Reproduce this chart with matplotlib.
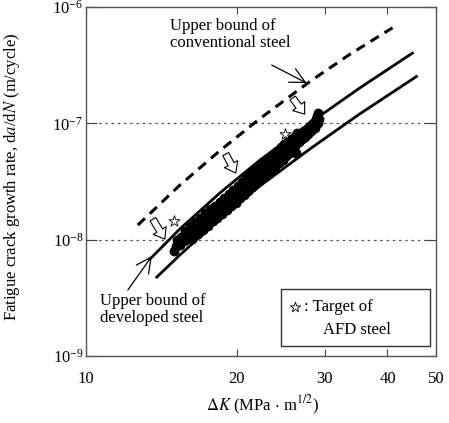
import matplotlib
matplotlib.use('Agg')
import matplotlib.pyplot as plt
from matplotlib.patches import Rectangle
from matplotlib.ticker import FixedLocator, FixedFormatter, NullLocator

plt.rcParams['font.family'] = ['Liberation Serif', 'DejaVu Serif']
plt.rcParams['mathtext.fontset'] = 'stix'
plt.rcParams['font.size'] = 12

# measured crack growth data (dK in MPa m^1/2, da/dN in 1e-8 m/cycle)
dk_data = [15.0, 15.1, 15.2, 15.4, 15.5, 15.7, 15.8, 16.0, 16.1, 16.3, 16.5, 16.7, 16.9, 17.1,
           17.3, 17.5, 17.7, 17.9, 18.1, 18.3, 18.5, 18.7, 18.9, 19.1, 19.3, 19.5, 19.7, 19.9,
           20.1, 20.3, 20.5, 20.7, 20.9, 21.1, 21.3, 21.5, 21.7, 21.9, 22.1, 22.3, 22.5, 22.7,
           22.9, 23.1, 23.3, 23.5, 23.7, 23.9, 24.1, 24.3, 24.5, 24.7, 24.9, 25.1, 25.3, 25.5,
           25.7, 25.9, 26.1, 26.3, 26.4, 26.6, 26.8, 27.0, 27.2, 27.4, 27.6, 27.8, 28.0, 28.2,
           28.4, 28.6, 28.8, 28.9, 29.0, 29.1, 29.2,
           16.2, 17.0, 17.8, 18.6, 19.4, 20.2, 21.0, 21.8, 22.6, 23.4, 24.2, 25.0, 25.8, 27.4,
           28.2,
           16.4, 16.8, 17.2, 17.6, 18.0, 18.4, 18.8, 19.2, 19.6, 20.0, 20.4, 20.8, 21.2, 21.6,
           22.0, 22.4, 22.8, 23.2, 23.6, 24.0, 24.4, 24.8, 25.2, 25.6, 26.0, 26.2, 27.0, 27.8]
rate_data = [0.80, 0.88, 1.00, 0.90, 1.06, 0.97, 1.18, 1.02, 1.30, 1.02, 1.42, 1.12, 1.55, 1.22,
             1.68, 1.32, 1.82, 1.44, 1.96, 1.54, 2.12, 1.66, 2.30, 1.80, 2.48, 1.94, 2.68, 2.08,
             2.90, 2.26, 3.15, 2.42, 3.40, 2.62, 3.65, 2.82, 3.90, 3.04, 4.15, 3.24, 4.45, 3.46,
             4.75, 3.70, 5.05, 3.98, 5.40, 4.25, 5.80, 4.55, 6.20, 4.85, 6.60, 5.20, 7.00, 5.55,
             7.40, 5.95, 7.85, 5.60, 8.20, 6.90, 8.00, 7.30, 8.60, 7.70, 9.00, 8.10, 9.50, 8.60,
             10.0, 9.20, 10.8, 11.6, 10.0, 12.2, 11.0,
             1.20, 1.45, 1.72, 2.00, 2.30, 2.62, 3.00, 3.45, 3.95, 4.55, 5.15, 5.85, 6.65, 8.40,
             9.60,
             1.25, 1.38, 1.52, 1.65, 1.80, 1.95, 2.12, 2.22, 2.40, 2.55, 2.75, 2.90, 3.10, 3.30,
             3.55, 3.80, 4.10, 4.35, 4.70, 5.00, 5.35, 5.70, 6.10, 6.50, 6.90, 6.40, 8.00, 8.90]

# bound curves
conv_dk = [12.69, 15.39, 18.50, 22.23, 27.96, 33.60, 40.94]
conv_rate = [1.335e-8, 2.94e-8, 5.81e-8, 1.095e-7, 2.279e-7, 3.904e-7, 6.63e-7]
dev_upper_dk = [13.42, 15.39, 18.50, 22.23, 28.35, 35.18, 44.86]
dev_upper_rate = [6.81e-9, 1.234e-8, 2.515e-8, 4.817e-8, 1.047e-7, 2.008e-7, 4.014e-7]
dev_lower_dk = [13.85, 15.39, 18.50, 22.23, 28.35, 35.18, 45.70]
dev_lower_rate = [4.77e-9, 7.37e-9, 1.503e-8, 2.89e-8, 6.255e-8, 1.202e-7, 2.526e-7]

# AFD steel targets
target_dk = [15.0, 25.0]
target_rate = [1.45e-8, 8.1e-8]

# hollow arrows (tail, tip)
block_tails = [(13.60, 1.50e-8), (19.01, 5.45e-8), (25.86, 1.65e-7)]
block_tips = [(14.37, 1.01e-8), (19.91, 3.74e-8), (27.33, 1.20e-7)]

x_ticks = [10, 20, 30, 40, 50]
y_ticks = [1e-9, 1e-8, 1e-7, 1e-6]

fig = plt.figure(figsize=(4.49, 4.23), dpi=100)
ax = fig.add_axes([86 / 449, 1 - 356 / 423, 350 / 449, 349 / 423])
ax.set_xscale('log')
ax.set_yscale('log')
ax.set_xlim(10, 50)
ax.set_ylim(1e-9, 1e-6)

for y in [1e-8, 1e-7]:
    ax.axhline(y, color='#555555', lw=0.9, ls=(0, (2, 3)), zorder=1)

ax.plot(conv_dk, conv_rate, color='black', lw=2.2, ls=(0, (3.2, 2.2)), zorder=3)
ax.plot(dev_upper_dk, dev_upper_rate, color='black', lw=2.0, zorder=3)
ax.plot(dev_lower_dk, dev_lower_rate, color='black', lw=2.0, zorder=3)

ax.scatter(dk_data, [r * 1e-8 for r in rate_data], s=50, color='black', zorder=4, lw=0)
ax.scatter(target_dk, target_rate, marker='*', s=70, facecolors='white',
           edgecolors='black', linewidths=0.6, zorder=5)

for tail, tip in zip(block_tails, block_tips):
    ax.annotate('', xy=tip, xytext=tail,
                arrowprops=dict(arrowstyle='simple,head_length=0.6,head_width=0.9,tail_width=0.4',
                                fc='white', ec='black', lw=0.8, mutation_scale=12,
                                shrinkA=0, shrinkB=0), zorder=6)

ax.annotate('', xy=(27.58, 2.22e-7), xytext=(23.49, 3.17e-7),
            arrowprops=dict(arrowstyle='->,head_length=0.9,head_width=0.45', color='black',
                            lw=0.9, mutation_scale=12, shrinkA=0, shrinkB=0))
ax.annotate('', xy=(13.54, 7.23e-9), xytext=(12.12, 3.69e-9),
            arrowprops=dict(arrowstyle='->,head_length=0.9,head_width=0.45', color='black',
                            lw=0.9, mutation_scale=12, shrinkA=0, shrinkB=0))

ax.text(0.24, 0.968, 'Upper bound of\nconventional steel', transform=ax.transAxes,
        ha='left', va='top', fontsize=12, linespacing=1.05)
ax.text(0.04, 0.18, 'Upper bound of\ndeveloped steel', transform=ax.transAxes,
        ha='left', va='top', fontsize=12, linespacing=1.05)

ax.add_patch(Rectangle((0.557, 0.029), 0.426, 0.163, transform=ax.transAxes,
                       fill=False, ec='#333333', lw=1.0, zorder=6))
ax.scatter([0.597], [0.14], marker='*', s=60, facecolors='white', edgecolors='black',
           linewidths=0.6, transform=ax.transAxes, zorder=7)
ax.text(0.622, 0.14, ': Target of', transform=ax.transAxes, ha='left', va='center', fontsize=12)
ax.text(0.677, 0.075, 'AFD steel', transform=ax.transAxes, ha='left', va='center', fontsize=12)

ax.xaxis.set_major_locator(FixedLocator(x_ticks))
ax.xaxis.set_major_formatter(FixedFormatter([str(t) for t in x_ticks]))
ax.xaxis.set_minor_locator(NullLocator())
ax.yaxis.set_major_locator(FixedLocator(y_ticks))
ax.yaxis.set_minor_locator(NullLocator())
ax.tick_params(axis='x', which='major', direction='in', length=5, top=True, pad=11,
               labelsize=12, color='#444444')
ax.tick_params(axis='y', which='major', direction='in', length=8, right=True, pad=2,
               labelsize=12, color='#444444')
for sp in ax.spines.values():
    sp.set_color('#555555')
    sp.set_linewidth(1.0)

ax.set_ylabel('Fatigue crack growth rate, d$a$/d$N$ (m/cycle)', fontsize=12)
ax.yaxis.set_label_coords(-0.183, 0.513)
ax.set_xlabel(r'$\Delta K$ (MPa $\cdot$ m$^{1/2}$)', fontsize=12)
ax.xaxis.set_label_coords(0.503, -0.108)

fig.savefig('out.png', dpi=100)
